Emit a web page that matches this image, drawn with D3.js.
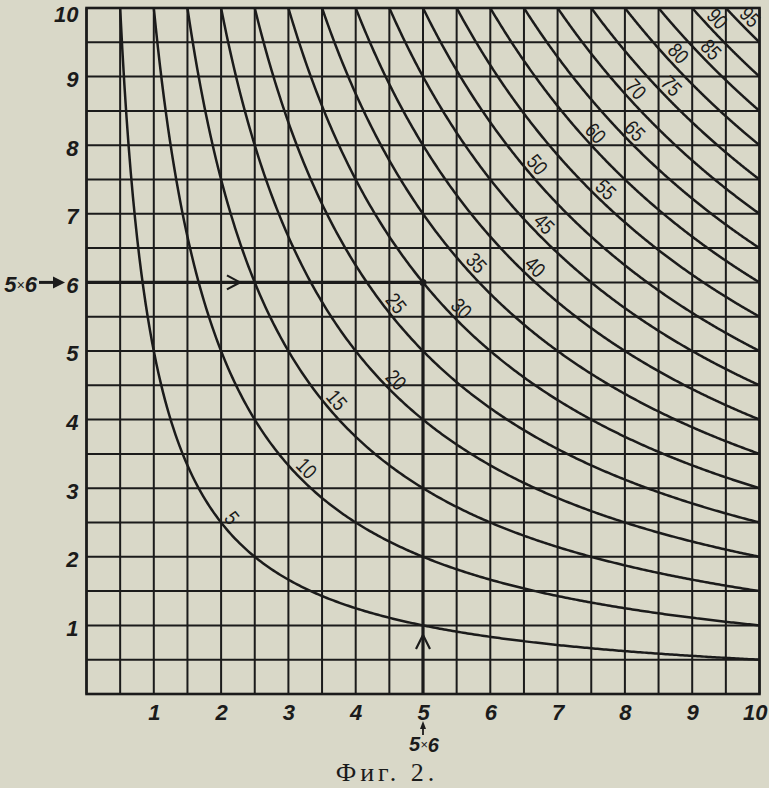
<!DOCTYPE html>
<html><head><meta charset="utf-8">
<script src="https://cdn.jsdelivr.net/npm/d3@7"></script>
<style>
html,body{margin:0;padding:0;background:#d9d8c8;}
svg{display:block;}
</style></head><body>
<svg id="c" width="769" height="788"></svg>
<script>
// ---- data ----
const products = [5,10,15,20,25,30,35,40,45,50,55,60,65,70,75,80,85,90,95];
const labelAt  = [2.03,3.15,3.59,4.48,4.47,5.45,5.67,6.55,6.68,6.57,7.60,7.44,8.03,8.04,8.57,8.67,9.16,9.25,9.74];
const xTicks = [1,2,3,4,5,6,7,8,9,10];
const yTicks = [1,2,3,4,5,6,7,8,9,10];
const gridLines = [0,0.5,1,1.5,2,2.5,3,3.5,4,4.5,5,5.5,6,6.5,7,7.5,8,8.5,9,9.5,10];
const factorA = 5, factorB = 6;          // example 5 x 6
const arrowOnH = 2.28, arrowOnV = 0.86;  // where the chevrons sit
const exampleText = ["5","×","6"];
const caption = "Фиг. 2.";

// ---- layout ----
const ink = "#1b1b1b";
const svg = d3.select("#c");
const x = d3.scaleLinear().domain([0,10]).range([86.5,759.5]);
const y = d3.scaleLinear().domain([0,10]).range([694,8]);

svg.append("defs").append("clipPath").attr("id","plot")
  .append("rect").attr("x",x(0)).attr("y",y(10))
  .attr("width",x(10)-x(0)).attr("height",y(0)-y(10));

const g = svg.append("g");

// grid
g.selectAll("line.v").data(gridLines).join("line")
  .attr("x1",d=>x(d)).attr("x2",d=>x(d)).attr("y1",y(0)).attr("y2",y(10))
  .attr("stroke",ink).attr("stroke-width",2);
g.selectAll("line.h").data(gridLines).join("line")
  .attr("y1",d=>y(d)).attr("y2",d=>y(d)).attr("x1",x(0)).attr("x2",x(10))
  .attr("stroke",ink).attr("stroke-width",2);
g.append("rect").attr("x",x(0)).attr("y",y(10))
  .attr("width",x(10)-x(0)).attr("height",y(0)-y(10))
  .attr("fill","none").attr("stroke",ink).attr("stroke-width",2.6);

// hyperbolas x*y = k
const line = d3.line().x(d=>x(d[0])).y(d=>y(d[1]));
const curves = g.append("g").attr("clip-path","url(#plot)");
products.forEach(k=>{
  const x0 = k/10, n = 300;
  const pts = d3.range(n+1).map(i=>{ const xv = x0 + (10-x0)*i/n; return [xv, k/xv]; });
  curves.append("path").attr("d",line(pts)).attr("fill","none")
    .attr("stroke",ink).attr("stroke-width",2.5);
});

// curve labels
const sx = (x(10)-x(0))/10, sy = (y(0)-y(10))/10;
products.forEach((k,i)=>{
  const xv = labelAt[i], yv = k/xv;
  const slope = (k/(xv*xv))*(sy/sx);
  const ang = Math.atan(slope)*180/Math.PI;
  g.append("text")
    .attr("transform",`translate(${x(xv)},${y(yv)}) rotate(${ang}) scale(0.82,1)`)
    .attr("y",-4).attr("text-anchor","middle")
    .attr("font-family","Liberation Sans, Arial, sans-serif")
    .attr("font-size",21).attr("fill",ink).text(k);
});

// example 5 x 6 highlighted lines
g.append("line").attr("x1",x(0)).attr("x2",x(factorA)).attr("y1",y(factorB)).attr("y2",y(factorB))
  .attr("stroke",ink).attr("stroke-width",3.2);
g.append("line").attr("x1",x(factorA)).attr("x2",x(factorA)).attr("y1",y(0)).attr("y2",y(factorB))
  .attr("stroke",ink).attr("stroke-width",3.2);
g.append("circle").attr("cx",x(factorA)).attr("cy",y(factorB)).attr("r",3.5).attr("fill",ink);
// chevrons
const hx = x(arrowOnH), hy = y(factorB);
g.append("path").attr("d",`M${hx-13},${hy-7}L${hx},${hy}L${hx-13},${hy+7}`)
  .attr("fill","none").attr("stroke",ink).attr("stroke-width",2.2);
const vx = x(factorA), vy = y(arrowOnV);
g.append("path").attr("d",`M${vx-7},${vy+14}L${vx},${vy}L${vx+7},${vy+14}`)
  .attr("fill","none").attr("stroke",ink).attr("stroke-width",2.2);

// axes
const tickFont = "Liberation Sans, Arial, sans-serif";
const ax = svg.append("g").attr("transform",`translate(0,${y(0)})`)
  .call(d3.axisBottom(x).tickValues(xTicks).tickSize(0).tickPadding(10));
const ay = svg.append("g").attr("transform",`translate(${x(0)},0)`)
  .call(d3.axisLeft(y).tickValues(yTicks).tickSize(0).tickPadding(8));
[ax,ay].forEach(a=>{
  a.select(".domain").remove();
  a.selectAll("text").attr("font-family",tickFont).attr("font-size",22)
    .attr("font-weight","bold").attr("font-style","italic").attr("fill",ink);
});
ay.selectAll("text").attr("dy","0.45em");
ay.selectAll(".tick").filter(d=>d===10).select("text").attr("dy","0.6em");
// last x label kept inside the page edge
ax.selectAll(".tick").filter(d=>d===10).select("text")
  .attr("text-anchor","end").attr("x",767-x(10));

// left "5×6 → 6"
const ly = y(factorB);
const lt = svg.append("text").attr("x",37).attr("y",ly).attr("dy","0.42em")
  .attr("text-anchor","end").attr("font-family",tickFont).attr("font-size",22)
  .attr("font-weight","bold").attr("font-style","italic").attr("fill",ink);
lt.append("tspan").text(exampleText[0]);
lt.append("tspan").attr("font-size",14).attr("font-weight","normal").attr("dy","-0.1em").text(exampleText[1]);
lt.append("tspan").attr("dy","0.1em").text(exampleText[2]);
svg.append("line").attr("x1",39).attr("x2",56).attr("y1",ly).attr("y2",ly)
  .attr("stroke",ink).attr("stroke-width",3);
svg.append("path").attr("d",`M53,${ly-6}L65,${ly}L53,${ly+6}Z`).attr("fill",ink);

// bottom "↑ 5×6"
const bx = x(factorA);
svg.append("line").attr("x1",bx).attr("x2",bx).attr("y1",735).attr("y2",726)
  .attr("stroke",ink).attr("stroke-width",1.8);
svg.append("path").attr("d",`M${bx-3},${729}L${bx},${721}L${bx+3},${729}Z`).attr("fill",ink);
const bt = svg.append("text").attr("x",bx+1).attr("y",751)
  .attr("text-anchor","middle").attr("font-family",tickFont).attr("font-size",20)
  .attr("font-weight","bold").attr("font-style","italic").attr("fill",ink);
bt.append("tspan").text(exampleText[0]);
bt.append("tspan").attr("font-size",13).attr("font-weight","normal").attr("dy","-0.15em").text(exampleText[1]);
bt.append("tspan").attr("dy","0.15em").text(exampleText[2]);

// caption
svg.append("text").attr("x",387).attr("y",781).attr("text-anchor","middle")
  .attr("font-family","Liberation Serif, DejaVu Serif, serif").attr("font-size",26)
  .attr("letter-spacing",4).attr("fill",ink).text(caption);
</script>
</body></html>
